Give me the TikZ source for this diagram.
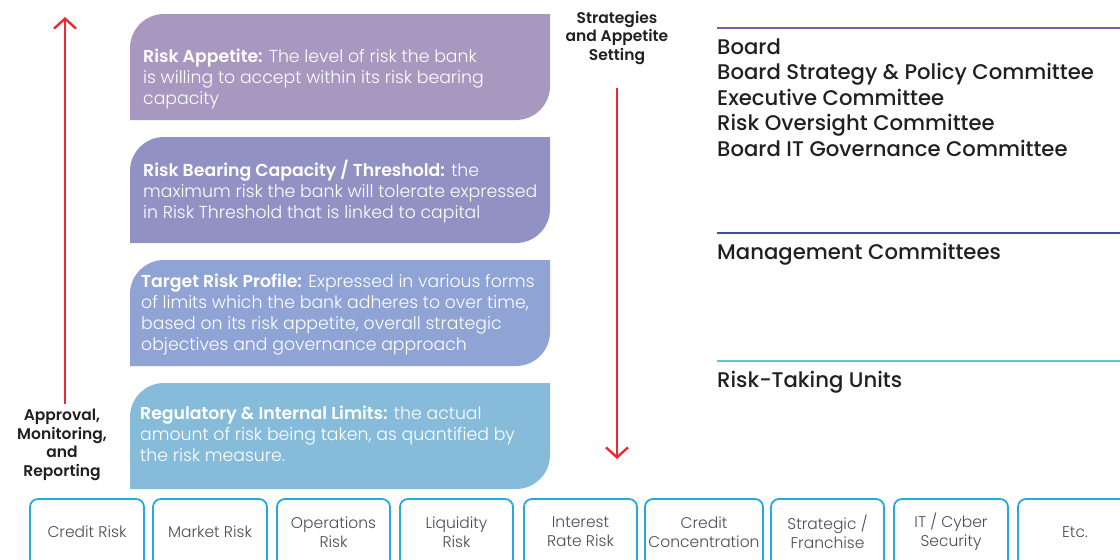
\documentclass[tikz,border=0pt]{standalone}
\usepackage{fontspec}
\setmainfont{Poppins}[BoldFont={Poppins SemiBold}]
\newfontfamily\lightf{Poppins Light}[BoldFont={Poppins SemiBold}]
\newfontfamily\medf{Poppins Medium}
\usetikzlibrary{arrows.meta}
\definecolor{cA}{HTML}{A897BF}
\definecolor{cB}{HTML}{9291C4}
\definecolor{cC}{HTML}{8FA3D4}
\definecolor{cD}{HTML}{86BCDA}
\definecolor{redar}{HTML}{EC2A33}
\definecolor{lineA}{HTML}{7D5BA6}
\definecolor{lineB}{HTML}{3F4EA1}
\definecolor{lineC}{HTML}{5CC6D4}
\definecolor{darktxt}{HTML}{231F20}
\definecolor{greytxt}{HTML}{4D4D4F}
\definecolor{riskbd}{HTML}{29A8E0}
\tikzset{
  boxtxt/.style={anchor=north west, inner sep=0pt, align=left, text=white,
    font=\lightf\fontsize{17.3}{21}\selectfont},
  sidelbl/.style={inner sep=0pt, align=center, text=darktxt,
    font=\fontsize{15.5}{18.7}\selectfont\bfseries},
  govtxt/.style={anchor=north west, inner sep=0pt, align=left, text=darktxt,
    font=\medf\fontsize{21.2}{25.5}\selectfont},
  riskbox/.style={draw=riskbd, line width=1.8pt, rounded corners=8pt, fill=white},
  risklbl/.style={inner sep=0pt, align=center, text=greytxt,
    font=\lightf\fontsize{15.5}{19}\selectfont},
  redarrow/.style={draw=redar, line width=2.4pt, -{Straight Barb[length=10pt,width=22pt]}},
  govline/.style={line width=2pt}
}
\newcommand{\tierbox}[3]{%
  \fill[#1] (130,#3) -- (130,#2+34) arc[start angle=180,end angle=270,radius=34]
    -- (550,#2) -- (550,#3-34) arc[start angle=0,end angle=90,radius=34] -- cycle;}
\begin{document}
\begin{tikzpicture}[x=1pt,y=-1pt]
\useasboundingbox (0,0) rectangle (1120,560);
% tier boxes
\tierbox{cA}{14}{120}
\tierbox{cB}{137}{243}
\tierbox{cC}{260}{366}
\tierbox{cD}{383}{489}
\node[boxtxt] (t1) at (143,49) {\textbf{Risk Appetite:} The level of risk the bank\\is willing to accept within its risk bearing\\capacity};
\node[boxtxt] (t2) at (143,160) {\textbf{Risk Bearing Capacity / Threshold:} the\\maximum risk the bank will tolerate expressed\\in Risk Threshold that is linked to capital};
\node[boxtxt] (t3) at (141,274) {\textbf{Target Risk Profile:} Expressed in various forms\\of limits which the bank adheres to over time,\\based on its risk appetite, overall strategic\\objectives and governance approach};
\node[boxtxt] (t4) at (140,406) {\textbf{Regulatory \& Internal Limits:} the actual\\amount of risk being taken, as quantified by\\the risk measure.};
% side labels and arrows
\node[sidelbl] (appr) at (62,445) {Approval,\\Monitoring,\\and\\Reporting};
\node[sidelbl] (strat) at (617,38) {Strategies\\and Appetite\\Setting};
\coordinate (upS) at (65,404);
\coordinate (upE) at (65,17);
\coordinate (dnS) at (617,88);
\coordinate (dnE) at (617,459);
\draw[redarrow] (upS) -- (upE);
\draw[redarrow] (dnS) -- (dnE);
% governance
\coordinate (l1a) at (717,28); \coordinate (l1b) at (1120,28);
\coordinate (l2a) at (717,233); \coordinate (l2b) at (1120,233);
\coordinate (l3a) at (717,361); \coordinate (l3b) at (1120,361);
\draw[govline, lineA] (l1a) -- (l1b);
\draw[govline, lineB] (l2a) -- (l2b);
\draw[govline, lineC] (l3a) -- (l3b);
\node[govtxt] (g1) at (717,38.5) {Board\\Board Strategy \& Policy Committee\\Executive Committee\\Risk Oversight Committee\\Board IT Governance Committee};
\node[govtxt] (g2) at (717,243) {Management Committees};
\node[govtxt] (g3) at (717,371) {Risk-Taking Units};
% risk boxes
\foreach \xa/\xb/\nm/\txt in {30/144/r1/{Credit Risk}, 153/267/r2/{Market Risk}, 277/390/r3/{Operations\\Risk}, 400/513/r4/{Liquidity\\Risk}, 524/637/r5/{Interest\\Rate Risk}, 645/763/r6/{Credit\\Concentration}, 771/884/r7/{Strategic /\\Franchise}, 894/1008/r8/{IT / Cyber\\Security}, 1018/1132/r9/{Etc.}}{
  \draw[riskbox] (\xa,499) rectangle (\xb,580);
  \node[risklbl] (\nm) at ({(\xa+\xb)/2},532) {\txt};
}
\end{tikzpicture}
\end{document}
